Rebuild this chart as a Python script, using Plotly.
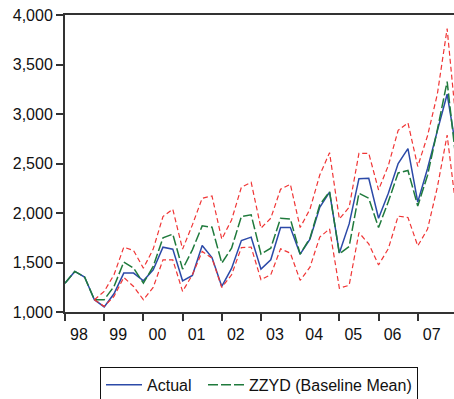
import plotly.graph_objects as go

# quarterly observations, 1998Q1 .. 2008Q1 (last one falls off the right edge)
quarter = list(range(41))
year_labels = ["98", "99", "00", "01", "02", "03", "04", "05", "06", "07"]
year_start = [0, 4, 8, 12, 16, 20, 24, 28, 32, 36]

actual = [1290, 1410, 1353, 1124,
          1052, 1184, 1393, 1393,
          1315, 1426, 1655, 1635,
          1315, 1369, 1671, 1550,
          1258, 1440, 1722, 1756,
          1433, 1527, 1853, 1853,
          1584, 1736, 2058, 2210,
          1595, 1890, 2347, 2351,
          1947, 2199, 2500, 2650,
          2110, 2450, 2830, 3200,
          2600]

baseline = [1290, 1410, 1353, 1124,
            1124, 1258, 1504, 1443,
            1292, 1460, 1749, 1786,
            1433, 1628, 1870, 1857,
            1494, 1645, 1964, 1981,
            1584, 1645, 1947, 1940,
            1584, 1746, 2082, 2216,
            1588, 1662, 2199, 2149,
            1853, 2115, 2405, 2430,
            2071, 2380, 2840, 3328,
            2450]

# +/- bands, start at 1998Q4
upper = [None, None, None, 1124,
         1208, 1376, 1655, 1621,
         1443, 1635, 1964, 2038,
         1635, 1880, 2149, 2172,
         1736, 1930, 2260, 2310,
         1847, 1947, 2240, 2290,
         1853, 2038, 2384, 2609,
         1940, 2058, 2603, 2603,
         2233, 2480, 2835, 2911,
         2470, 2780, 3200, 3863,
         2830]

lower = [None, None, None, 1124,
         1057, 1157, 1349, 1258,
         1124, 1248, 1527, 1527,
         1208, 1376, 1611, 1544,
         1248, 1376, 1651, 1655,
         1326, 1376, 1638, 1594,
         1319, 1453, 1756, 1840,
         1240, 1270, 1802, 1688,
         1475, 1640, 1968, 1955,
         1668, 1837, 2260, 2787,
         1975]

font = "Arial, 'Liberation Sans', sans-serif"
axis_col = "#333333"

fig = go.Figure()

fig.add_trace(go.Scatter(x=quarter, y=actual, name="Actual", mode="lines",
                         legendwidth=51,
                         line=dict(color="#2c4aa8", width=1.5)))
fig.add_trace(go.Scatter(x=quarter, y=baseline, name="ZZYD (Baseline Mean)", mode="lines",
                         line=dict(color="#1f7a3c", width=1.5, dash="10px,3px")))
fig.add_trace(go.Scatter(x=quarter, y=upper, mode="lines", showlegend=False,
                         line=dict(color="#f03535", width=1.2, dash="5px,3px")))
fig.add_trace(go.Scatter(x=quarter, y=lower, mode="lines", showlegend=False,
                         line=dict(color="#f03535", width=1.2, dash="5px,3px")))

fig.update_layout(
    width=454, height=399,
    margin=dict(l=65, r=0, t=15, b=87, autoexpand=False),
    plot_bgcolor="white",
    paper_bgcolor="white",
    font=dict(family=font, size=16, color="#111111"),
    legend=dict(orientation="h", x=0.09, xanchor="left", y=-0.185, yanchor="top",
                bordercolor="#111111", borderwidth=1, bgcolor="white",
                itemwidth=36, font=dict(size=16)),
    xaxis=dict(range=[0, 39.7], tickvals=year_start, ticktext=year_labels,
               ticks="outside", ticklen=7, tickwidth=1.5, tickcolor=axis_col,
               ticklabelshift=14, automargin=False, ticklabeloverflow="allow",
               showline=True, linecolor=axis_col, linewidth=2, mirror=True,
               showgrid=False, zeroline=False),
    yaxis=dict(range=[1000, 4000], dtick=500, tickformat=",", automargin=False,
               ticklabeloverflow="allow",
               ticks="outside", ticklen=7, tickwidth=1.5, tickcolor=axis_col,
               showline=True, linecolor=axis_col, linewidth=2,
               showgrid=False, zeroline=False),
)

# drop the default 8px body margin so the figure sits at the page corner
fig.write_html("out.html", config={"displayModeBar": False},
               post_script="document.body.style.margin = '0';")
